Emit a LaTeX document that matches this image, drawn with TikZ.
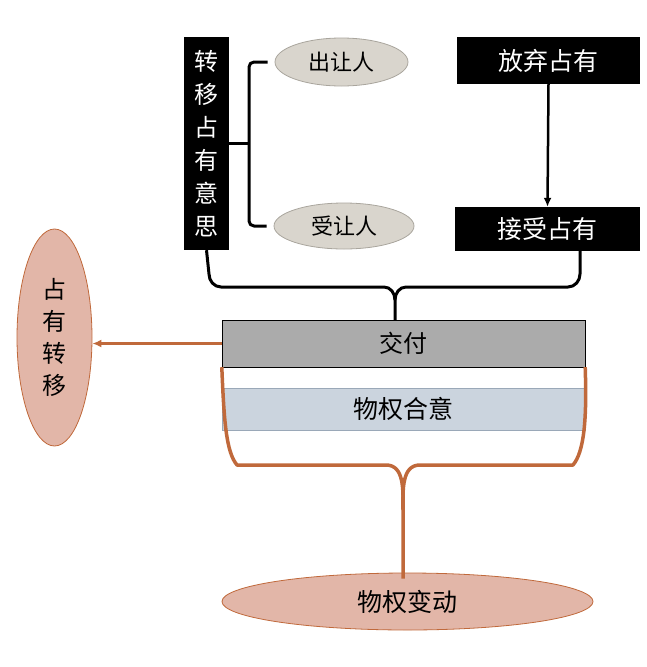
\documentclass[tikz,border=0pt]{standalone}
\usepackage{fontspec}
\setmainfont{Noto Sans CJK SC}
\usetikzlibrary{shapes.geometric,arrows.meta}
\definecolor{rustline}{HTML}{C0693B}
\definecolor{rustfill}{HTML}{E2B6A8}
\definecolor{sandfill}{HTML}{D9D5CD}
\definecolor{sandline}{HTML}{A9A59D}
\definecolor{slatefill}{HTML}{CBD4DE}
\definecolor{slateline}{HTML}{9AA8B8}
\tikzset{
  blackbox/.style={fill=black, text=white, inner sep=0pt, font=\fontsize{24}{33}\selectfont, align=center},
  sandoval/.style={ellipse, fill=sandfill, draw=sandline, thick, inner sep=0pt, font=\fontsize{22}{25}\selectfont},
  rustoval/.style={ellipse, fill=rustfill, draw=rustline, thick, inner sep=0pt, font=\fontsize{24}{32}\selectfont, align=center},
  bracket/.style={line width=3pt, line join=round},
  rustbrace/.style={draw=rustline, line width=3.5pt, line join=round}
}
\begin{document}
\begin{tikzpicture}[x=1pt, y=-1pt]
        \useasboundingbox (0,0) rectangle (647,667);
        % intent side
        \node[blackbox, minimum width=45pt, minimum height=213pt] (intent) at (206.5,143.5) {转\\移\\占\\有\\意\\思};
        \node[sandoval, minimum width=133pt, minimum height=48pt] (chu) at (341.5,62) {出让人};
        \node[sandoval, minimum width=140pt, minimum height=46pt] (shou) at (344,226) {受让人};
        \draw[bracket, rounded corners=5pt] ([xshift=-7pt]chu.west) -| (249,143.5) |- ([xshift=-7pt]shou.west);
        \draw[bracket] (intent.east) -- (249,143.5);
        % possession side
        \node[blackbox, minimum width=183pt, minimum height=47pt, font=\fontsize{25}{30}\selectfont] (giveup) at (548.5,60.5) {放弃占有};
        \node[blackbox, minimum width=185pt, minimum height=44pt, font=\fontsize{25}{30}\selectfont] (accept) at (547.5,229) {接受占有};
        \draw[line width=2.5pt, -{Latex[length=9pt,width=8pt]}] (giveup.south) -- (accept.north);
        \coordinate (rarm) at (580,251);
        % delivery
        \node[draw, fill=black!33, minimum width=363pt, minimum height=47pt, inner sep=0pt, font=\fontsize{24}{28}\selectfont] (jiaofu) at (403.5,343.5) {交付};
        \node[draw=slateline, fill=slatefill, minimum width=363pt, minimum height=42pt, inner sep=0pt, font=\fontsize{25}{28}\selectfont] (heyi) at (403.5,409) {物权合意};
        \draw[bracket] (intent.south) -- (209,274) to[out=-90,in=180] (221,287) -- (384,287) to[out=0,in=90] (395,300) -- (395,320);
        \draw[bracket] (rarm) -- (580,274) to[out=-90,in=0] (568,287) -- (406,287) to[out=180,in=90] (395,300);
        % results
        \node[rustoval, minimum width=371pt, minimum height=57pt, font=\fontsize{25}{28}\selectfont] (biandong) at (407.5,601.5) {物权变动};
        \node[rustoval, minimum width=75pt, minimum height=217pt] (transfer) at (54.5,337.5) {占\\有\\转\\移};
        \draw[rustbrace] (jiaofu.south west) .. controls (224,420) and (226,452) .. (237,465) -- (386,465) to[out=0,in=90] (403,510) -- ([yshift=-6pt]biandong.north -| 403,0);
        \draw[rustbrace] (jiaofu.south east) .. controls (587,420) and (584,452) .. (573,465) -- (420,465) to[out=180,in=90] (403,510);
        \draw[draw=rustline, line width=3pt, -{Latex[length=9pt,width=8pt]}] (jiaofu.west) -- (jiaofu.west -| transfer.east);
\end{tikzpicture}
\end{document}
